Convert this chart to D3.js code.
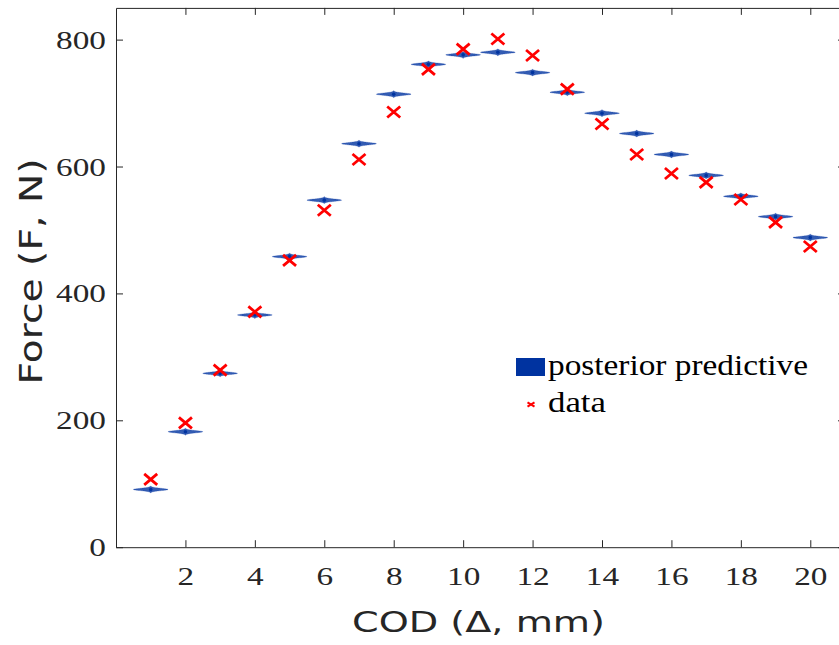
<!DOCTYPE html>
<html>
<head>
<meta charset="utf-8">
<script src="https://cdn.jsdelivr.net/npm/d3@7"></script>
<style>
  html, body { margin: 0; padding: 0; background: #ffffff; }
  svg { display: block; }
</style>
</head>
<body>
<svg id="chart" width="839" height="645"></svg>
<script>
// Crack opening displacement (mm) at each load step
const cod = [1, 2, 3, 4, 5, 6, 7, 8, 9, 10, 11, 12, 13, 14, 15, 16, 17, 18, 19, 20];
// Posterior predictive centre of the force distribution (N)
const predicted = [91, 182, 274, 366, 458, 547, 636, 714, 761, 776, 780, 748,
                   717, 684, 652, 619, 586, 553, 521, 488];
// Measured force (N)
const measured = [107, 196, 279, 371, 452, 531, 611, 686, 753, 785, 801, 775,
                  722, 667, 619, 589, 575, 548, 512, 474];
// Spread (N) of the posterior predictive at each step
const spread = [1.8, 1.8, 1.8, 1.8, 1.8, 1.8, 1.8, 1.8, 1.8, 1.8,
                1.8, 1.8, 1.8, 1.8, 1.8, 1.8, 1.8, 1.8, 1.8, 1.8];
const xTicks = [2, 4, 6, 8, 10, 12, 14, 16, 18, 20];
const yTicks = [0, 200, 400, 600, 800];
const legendLabels = ["posterior predictive", "data"];

const svg = d3.select("#chart");
const plotLeft = 116, plotRight = 845, plotTop = 7.9, plotBottom = 547.2;
const x = d3.scaleLinear().domain([0, 21]).range([plotLeft, plotRight]);
const y = d3.scaleLinear().domain([0, 850]).range([plotBottom, plotTop]);

const axisColor = "#262626";
const serif = "'Liberation Serif', 'Times New Roman', serif";
const sans = "'DejaVu Sans', 'Noto Sans', sans-serif";
const blue = "#0033a0";
const tickLen = 7;

// Axes box with inward ticks
const gx = svg.append("g").attr("transform", `translate(0,${plotBottom})`)
  .call(d3.axisBottom(x).tickValues(xTicks).tickSizeInner(-tickLen).tickSizeOuter(0).tickPadding(30));
const gxTop = svg.append("g").attr("transform", `translate(0,${plotTop})`)
  .call(d3.axisTop(x).tickValues(xTicks).tickSizeInner(-tickLen).tickSizeOuter(0).tickFormat(""));
const gy = svg.append("g").attr("transform", `translate(${plotLeft},0)`)
  .call(d3.axisLeft(y).tickValues(yTicks).tickSizeInner(-tickLen).tickSizeOuter(0));
const gyRight = svg.append("g").attr("transform", `translate(${plotRight},0)`)
  .call(d3.axisRight(y).tickValues(yTicks).tickSizeInner(-tickLen).tickSizeOuter(0).tickFormat(""));

[gx, gxTop, gy, gyRight].forEach(g => {
  g.select(".domain").attr("stroke", axisColor).attr("stroke-width", 1);
  g.selectAll(".tick line").attr("stroke", axisColor).attr("stroke-width", 1);
});

gx.selectAll(".tick text")
  .attr("fill", axisColor)
  .style("font-family", serif)
  .style("font-size", "26px")
  .attr("dy", null)
  .attr("y", 585 - plotBottom)
  .attr("transform", "scale(1.28,1)");

gy.selectAll(".tick text")
  .attr("fill", axisColor)
  .style("font-family", serif)
  .style("font-size", "26px")
  .attr("dy", null)
  .attr("x", -(plotLeft - 106) / 1.28)
  .attr("y", 8.5)
  .attr("transform", "scale(1.28,1)");

// Posterior predictive violins: density of force, width normalised to one unit
const halfWidthPx = x(0.5) - x(0);
const violin = svg.append("g");
cod.forEach((c, i) => {
  const mu = predicted[i], s = spread[i];
  const zs = d3.range(-3, 3.0001, 0.1);
  const pts = zs.map(z => [x(c) + halfWidthPx * Math.exp(-z * z / 2), y(mu + z * s)]);
  const ptsL = zs.slice().reverse().map(z => [x(c) - halfWidthPx * Math.exp(-z * z / 2), y(mu + z * s)]);
  violin.append("path")
    .attr("d", d3.line()(pts.concat(ptsL)) + "Z")
    .attr("fill", blue)
    .attr("fill-opacity", 0.8)
    .attr("stroke", blue)
    .attr("stroke-opacity", 0.3)
    .attr("stroke-width", 0.8);
  violin.append("circle")
    .attr("cx", x(c)).attr("cy", y(mu)).attr("r", 1.8)
    .attr("fill", blue);
});

// Measured data as crosses
const cross = (w, h) => `M${-w},${-h}L${w},${h}M${-w},${h}L${w},${-h}`;
svg.append("g").selectAll("path")
  .data(cod)
  .join("path")
  .attr("transform", (c, i) => `translate(${x(c)},${y(measured[i])})`)
  .attr("d", cross(6.5, 5.5))
  .attr("fill", "none")
  .attr("stroke", "#ff0000")
  .attr("stroke-width", 2.8);

// Legend
const lg = svg.append("g");
lg.append("rect").attr("x", 516).attr("y", 358).attr("width", 29).attr("height", 18).attr("fill", blue);
lg.append("text").attr("x", 548).attr("y", 375)
  .attr("textLength", 260).attr("lengthAdjust", "spacingAndGlyphs")
  .style("font-family", serif).style("font-size", "30px").attr("fill", "#000")
  .text(legendLabels[0]);
lg.append("path").attr("transform", "translate(531,404.5)")
  .attr("d", cross(3.5, 2.2)).attr("stroke", "#ff0000").attr("stroke-width", 2).attr("fill", "none");
lg.append("text").attr("x", 548).attr("y", 412)
  .attr("textLength", 58).attr("lengthAdjust", "spacingAndGlyphs")
  .style("font-family", serif).style("font-size", "30px").attr("fill", "#000")
  .text(legendLabels[1]);

// Axis titles
svg.append("text")
  .attr("x", 478.5).attr("y", 632)
  .attr("text-anchor", "middle")
  .attr("textLength", 253).attr("lengthAdjust", "spacingAndGlyphs")
  .style("font-family", sans).style("font-size", "29px").attr("fill", axisColor)
  .text("COD (Δ, mm)");

svg.append("text")
  .attr("transform", "translate(42,271.5) rotate(-90)")
  .attr("text-anchor", "middle")
  .attr("textLength", 226).attr("lengthAdjust", "spacingAndGlyphs")
  .style("font-family", sans).style("font-size", "32px").attr("fill", axisColor)
  .text("Force (F, N)");
</script>
</body>
</html>
